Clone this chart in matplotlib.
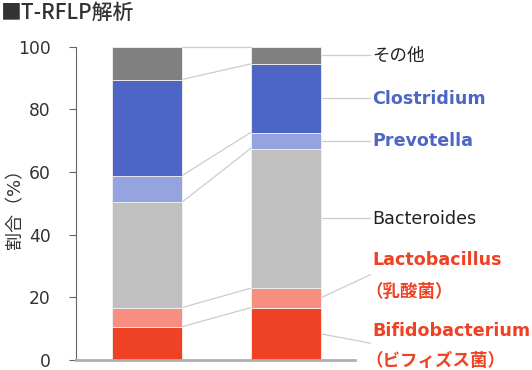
import matplotlib
matplotlib.use("Agg")
import matplotlib.pyplot as plt
import numpy as np

plt.rcParams['font.family'] = ['DejaVu Sans', 'Noto Sans CJK JP']

groups = ["A", "B"]
segments = ["Bifidobacterium", "Lactobacillus", "Bacteroides", "Prevotella", "Clostridium", "その他"]
values = {
    "Bifidobacterium": [10.6, 16.7],
    "Lactobacillus":   [6.1, 6.2],
    "Bacteroides":     [33.6, 44.6],
    "Prevotella":      [8.5, 5.1],
    "Clostridium":     [30.7, 21.9],
    "その他":           [10.5, 5.5],
}
colors = ["#ef4123", "#f68f7f", "#c0c0c0", "#95a4de", "#4d66c5", "#808080"]
yticks = [0, 20, 40, 60, 80, 100]

W, H = 532, 370
fig = plt.figure(figsize=(W / 100, H / 100), dpi=100)
ax = fig.add_axes([76 / W, 10 / H, 279 / W, 313.3 / H])

x = np.arange(len(groups))
bw = 0.504
bottom = np.zeros(len(groups))
bounds = [bottom.copy()]
for seg, c in zip(segments, colors):
    v = np.array(values[seg])
    ax.bar(x, v, bw, bottom=bottom, color=c, edgecolor="#f2f2f2", linewidth=0.6, zorder=2)
    bottom = bottom + v
    bounds.append(bottom.copy())

# connector lines between bars
for b in bounds[1:]:
    ax.plot([x[0] + bw / 2, x[1] - bw / 2], [b[0], b[1]], color="#cccccc", lw=0.9,
            clip_on=False, zorder=1)

# leader lines on right
xr = x[1] + bw / 2
x_end = 1.609
x_txt = 1.625
mids = [(bounds[i][1] + bounds[i + 1][1]) / 2 for i in range(len(segments))]
ends = [5.4, 27.2, None, None, None, None]
for m, e in zip(mids, ends):
    ye = m if e is None else e
    ax.plot([xr, x_end], [m, ye], color="#cccccc", lw=0.9, clip_on=False, zorder=1)

fs = 12.6
ax.text(x_txt, 97.0, "その他", color="#222222", fontsize=fs, va="center", ha="left")
ax.text(x_txt, 83.4, "Clostridium", color="#4d66c5", fontsize=fs, fontweight="bold", va="center", ha="left")
ax.text(x_txt, 69.8, "Prevotella", color="#4d66c5", fontsize=fs, fontweight="bold", va="center", ha="left")
ax.text(x_txt, 45.0, "Bacteroides", color="#222222", fontsize=fs, va="center", ha="left")
ax.text(x_txt, 31.9, "Lactobacillus", color="#ef4123", fontsize=fs, fontweight="bold", va="center", ha="left")
ax.text(x_txt - 0.05, 21.7, "（乳酸菌）", color="#ef4123", fontsize=fs, fontweight="bold", va="center", ha="left")
ax.text(x_txt, 9.4, "Bifidobacterium", color="#ef4123", fontsize=fs, fontweight="bold", va="center", ha="left")
ax.text(x_txt - 0.05, -0.2, "（ビフィズス菌）", color="#ef4123", fontsize=fs, fontweight="bold", va="center", ha="left")

ax.set_xlim(-0.509, 1.50)
ax.set_ylim(0, 100)
ax.set_yticks(yticks)
ax.set_yticklabels([str(t) for t in yticks], fontsize=12.3, color="#333333")
ax.set_xticks([])
ax.tick_params(axis="y", length=5, width=0.8, color="#666666", pad=13)
for s in ["top", "right"]:
    ax.spines[s].set_visible(False)
ax.spines["left"].set_color("#666666")
ax.spines["left"].set_linewidth(0.8)
ax.spines["bottom"].set_color("#b0b0b0")
ax.spines["bottom"].set_linewidth(2)

fig.text(15 / W, 1 - 204 / H, "割合（%）", fontsize=13, color="#333333", rotation=90,
         va="center", ha="center")

fig.text(1 / W, 1 - 13 / H, "■T-RFLP解析", fontsize=15, color="#333333",
         family=["Noto Sans CJK JP", "DejaVu Sans"], fontweight="medium", va="center", ha="left")

fig.savefig("out.png", dpi=100)
